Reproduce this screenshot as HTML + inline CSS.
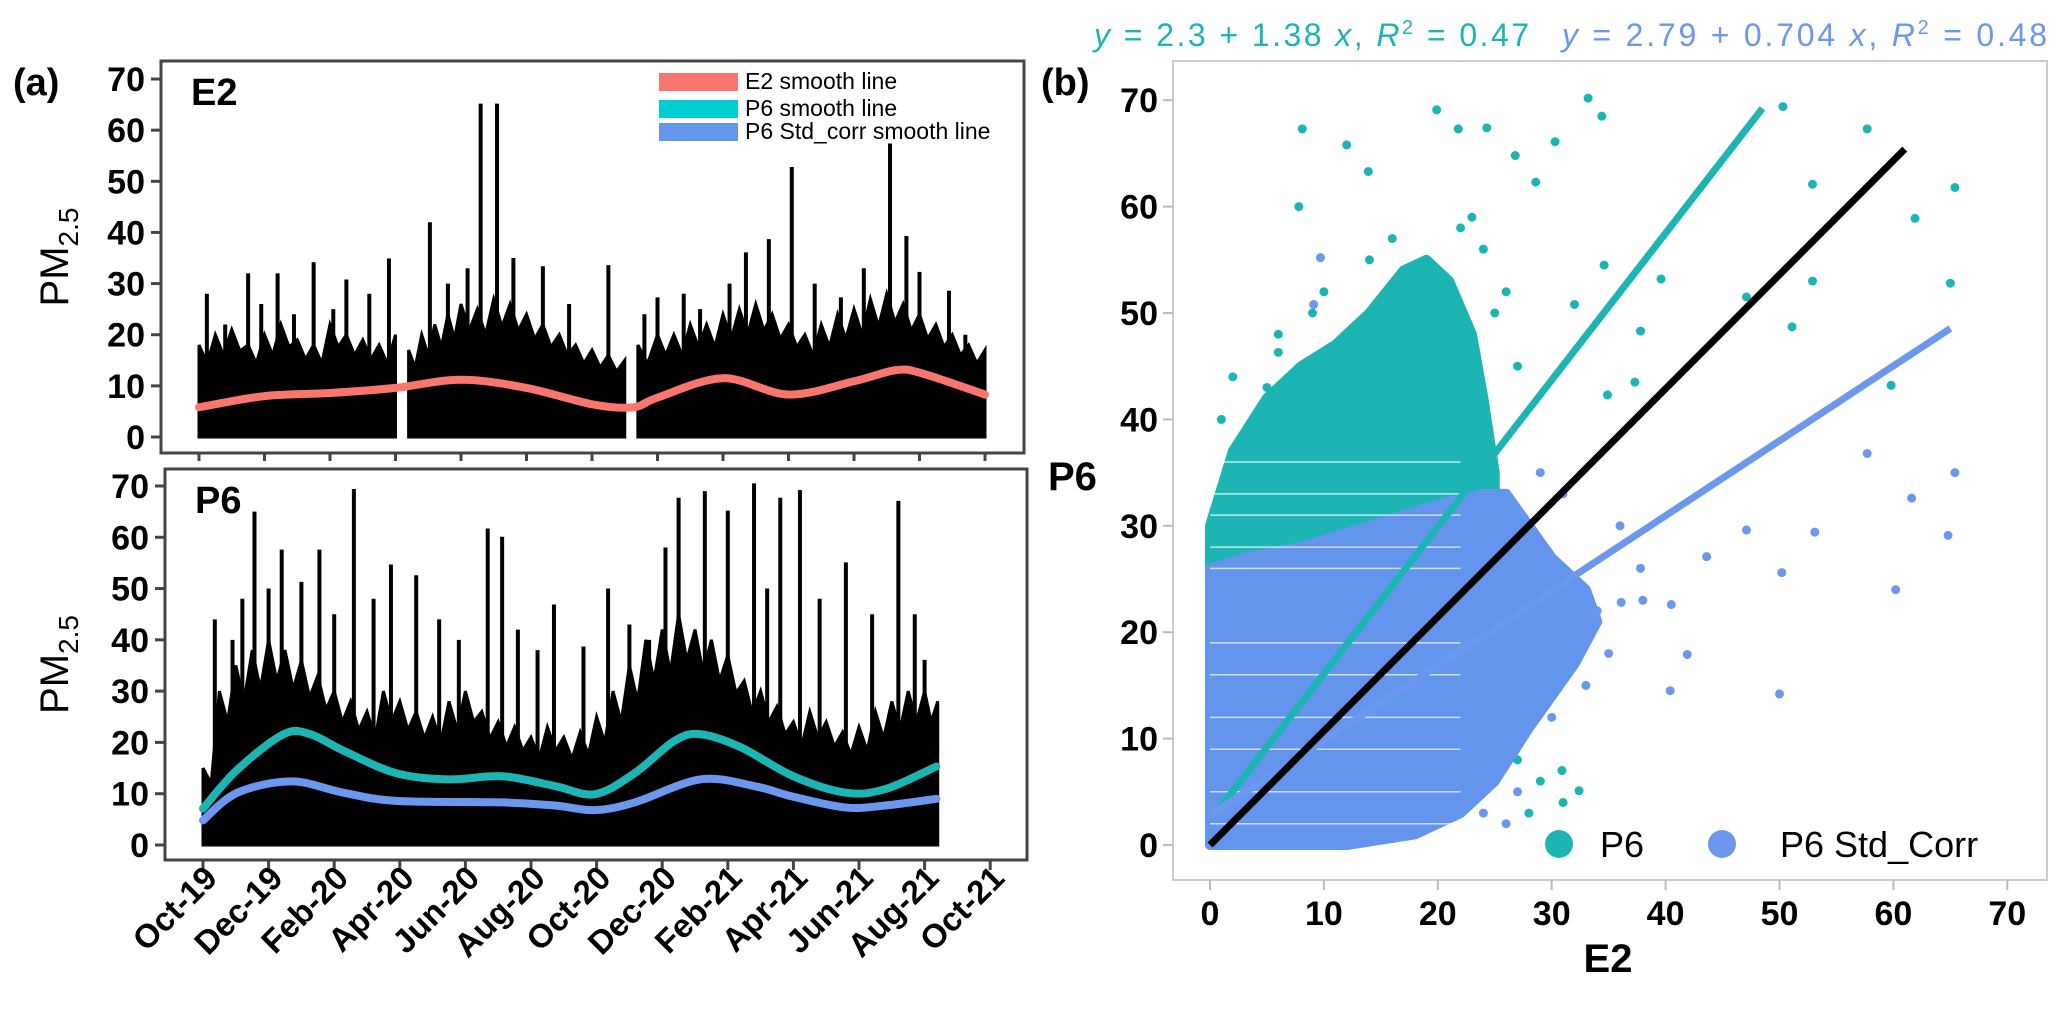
<!DOCTYPE html>
<html><head><meta charset="utf-8"><style>
html,body{margin:0;padding:0;background:#fff;}
svg{display:block;font-family:"Liberation Sans Narrow","Liberation Sans",sans-serif;}
.tk{font-weight:bold;font-size:34px;}
</style></head><body>
<svg id="fig" width="2067" height="1014" viewBox="0 0 2067 1014" xmlns="http://www.w3.org/2000/svg"></svg>
<script>
// ---- data ----
const monthLabels=["Oct-19","Dec-19","Feb-20","Apr-20","Jun-20","Aug-20","Oct-20","Dec-20","Feb-21","Apr-21","Jun-21","Aug-21","Oct-21"];
const yTicks=[0,10,20,30,40,50,60,70];
const xTicksR=[0,10,20,30,40,50,60,70];
const e2DenseMonths=[0,0.5,1,1.5,2,2.5,3,3.5,4,4.5,5,5.5,6,6.2,6.4,6.8,7.2,7.6,8,8.5,9,9.5,10,10.5,11,11.5,12,12.5,13,13.2,13.4,14,14.5,15,15.5,16,16.5,17,17.5,18,18.5,19,19.5,20,20.5,21,21.5,22,22.5,23,23.5,24];
const e2DenseVals=[18,20,21,18,20,22,19,18,22,20,19,18,20,0,17,20,22,24,26,25,27,26,24,22,20,18,17,16,15,0,18,20,20,22,22,24,25,26,24,22,20,22,24,25,27,28,26,24,22,20,18,17];
const e2SpikeMonths=[0.24,0.8,1.5,1.9,2.4,2.9,3.5,4.1,4.5,5.2,5.8,7.05,7.6,8.2,8.6,9.1,9.6,10.5,11.3,12.5,13.6,14,14.8,15.3,16.2,16.7,17.4,18.1,18.8,19.6,20.3,21.1,21.6,22,22.9,23.4];
const e2SpikeVals=[28,22,32,26,32,24,34.2,25,30.8,28,34.9,42,30,33,65.2,65.2,35,33.4,26,33.6,24,27.3,28,25,30,36.1,38.7,52.8,30,27.3,33,57.4,39.3,32.3,28.6,20];
const e2SmoothMonths=[0,2,4,6,8,10,12,13.25,14,16,18,20,21.3,22.1,24];
const e2SmoothVals=[5.8,8,8.6,9.6,11.2,9.6,6.4,5.8,7.7,11.5,8.3,10.9,13.1,12.4,8.3];
const p6DenseMonths=[0,0.5,1,1.5,2,2.5,3,3.5,4,4.5,5,5.5,6,6.5,7,7.5,8,8.5,9,9.5,10,10.5,11,11.5,12,12.5,13,13.5,14,14.5,15,15.5,16,16.5,17,17.5,18,18.5,19,19.5,20,20.5,21,21.5,22,22.4];
const p6DenseVals=[15,30,35,38,40,38,36,33,30,28,26,30,28,26,25,28,30,26,24,23,21,23,21,22,25,30,35,40,42,45,42,40,37,32,30,27,24,26,24,22,23,26,28,30,30,28];
const p6SpikeMonths=[0.36,0.9,1.2,1.57,2,2.4,3,3.55,4,4.6,5.2,5.73,6.5,7.2,7.8,8.68,9.12,9.6,10.2,10.7,11.6,12.35,13,13.6,14.1,14.5,15.3,16,16.8,17.2,17.6,18.2,18.8,19.6,20.4,21.2,21.7,22];
const p6SpikeVals=[44,40,48,65,50,57.6,51.3,57.6,45,69.4,48,54.7,52.6,44,40,61.7,60.1,42,38,46.9,38.7,50,43,40,58,67.7,69,65.2,70.5,50,67.7,69.2,48,55.1,45,67.1,45,36.1];
const p6SmoothMonths=[0,1.05,2.46,3.27,4.28,5.89,7.5,9.12,10.73,11.95,13.16,14.37,15.17,16.38,18,19.6,20.8,22.36];
const p6SmoothVals=[7.1,14.7,21.6,21.6,18.4,14,12.8,13.4,11.5,9.9,14,20.3,21.6,19.1,13.4,10.2,10.9,15.3];
const stdSmoothMonths=[0,1.05,2.7,4.28,5.89,9.12,10.73,11.95,13.16,15.17,16.8,18,19.6,20.8,22.36];
const stdSmoothVals=[4.8,10.2,12.4,10.2,8.6,8.3,7.7,6.8,8.3,12.8,11.5,9.4,7.3,7.7,9];
// scatter
const p6CloudX=[0,0,2,5,8,11,14,17,19,21,23,24,25,25,22,18,15,10];
const p6CloudY=[0,30,37,42,45,47,50,54,55,53,48,42,35,22,10,5,2,0];
const stdCloudX=[0,0,3,8,14,20,24,26,28,30,33,34,32,28,25,22,18,12];
const stdCloudY=[0,26,27,28,30,32,33,33,30,27,24,21,17,11,6,3,1,0];
const p6PtsX=[8.1,19.9,33.2,34.4,50.3,57.7,12,13.9,21.8,24.3,26.8,30.3,28.6,7.8,52.9,61.9,65.4,65,51.1,59.8,52.9,47.1,37.8,39.6,34.6,32,34.9,37.3,6,2,30.9,32.4,3,5,27,29,31,28,4,1,2,6,9,10,14,16,22,24,26,23,25,27,1,3];
const p6PtsY=[67.3,69.1,70.2,68.5,69.4,67.3,65.8,63.3,67.3,67.4,64.8,66.1,62.3,60,62.1,58.9,61.8,52.8,48.7,43.2,53,51.5,48.3,53.2,54.5,50.8,42.3,43.5,46.3,32.6,7,5.1,38,43,8,6,4,3,35,40,44,48,50,52,55,57,58,56,52,59,50,45,33,36];
const stdPtsX=[9.7,9.1,40.5,41.9,50,40.4,64.8,61.6,65.4,57.7,60.2,50.2,47.1,43.6,53.1,37.8,36.1,34,38,30,33,27,35,29,31,36,26,24];
const stdPtsY=[55.2,50.8,22.6,17.9,14.2,14.5,29.1,32.6,35,36.8,24,25.6,29.6,27.1,29.4,26,22.8,22,23,12,15,5,18,35,33,30,2,3];
const p6Fit=[2.3,1.38], stdFit=[2.79,0.704];
const oneToOneX=[0,61], oneToOneY=[0,65.4];

// ---- scales ----
const xT=m=>199+m*32.75, yT=v=>437-v*5.114;
const xB=m=>203+m*32.8, yB=v=>845-v*5.129;
const xR=v=>1210+v*11.39, yR=v=>845-v*10.64;
const NS="http://www.w3.org/2000/svg", svg=document.getElementById('fig');
function el(tag,attrs,parent,text){const e=document.createElementNS(NS,tag);for(const k in attrs)e.setAttribute(k,attrs[k]);if(text!==undefined)e.textContent=text;(parent||svg).appendChild(e);return e;}
function smoothPath(P){
  let d='M'+P[0][0]+','+P[0][1];
  for(let i=0;i<P.length-1;i++){
    const p0=P[i-1]||P[i],p1=P[i],p2=P[i+1],p3=P[i+2]||p2;
    const c1=[p1[0]+(p2[0]-p0[0])/6,p1[1]+(p2[1]-p0[1])/6],c2=[p2[0]-(p3[0]-p1[0])/6,p2[1]-(p3[1]-p1[1])/6];
    d+=' C'+c1+' '+c2+' '+p2;
  }
  return d;
}

// ---- panel (a) ----
function tsPanel(name,xs,ys,frame,dense,dM,spM,spV,smooths,lbl,tickLen){
  const g=el('g',{});
  
  
  const fr=el('rect',{x:frame[0],y:frame[1],width:frame[2]-frame[0],height:frame[3]-frame[1],fill:'none',stroke:'#444','stroke-width':3},g);
  
  
  yTicks.forEach(t=>{
    const l=el('line',{x1:frame[0]-10,x2:frame[0],y1:ys(t),y2:ys(t),stroke:'#444','stroke-width':3},g);
    
    
    const tx=el('text',{x:frame[0]-16,y:ys(t)+12,'text-anchor':'end',class:'tk'},g,t);
    
    
  });
  let seg=[];const segs=[];
  dM.forEach((m,i)=>{if(dense[i]===0){if(seg.length)segs.push(seg);seg=[];}else seg.push([m,dense[i]]);});
  if(seg.length)segs.push(seg);
  segs.forEach(s=>{
    let d='M'+xs(s[0][0])+','+ys(0);
    s.forEach((p,i)=>{d+=' L'+xs(p[0])+','+ys(p[1]);if(i<s.length-1){d+=' L'+((xs(p[0])+xs(s[i+1][0]))/2)+','+ys(p[1]*0.8);}});
    d+=' L'+xs(s[s.length-1][0])+','+ys(0)+' Z';
    const p=el('path',{d:d,fill:'#000',stroke:'#000','stroke-width':3},g);
    
    
  });
  spM.forEach((m,i)=>{
    const l=el('line',{x1:xs(m),x2:xs(m),y1:ys(0),y2:ys(spV[i]),stroke:'#000','stroke-width':4},g);
    
    
  });
  smooths.forEach(s=>{
    const p=el('path',{d:smoothPath(s[0].map((m,i)=>[xs(m),ys(s[1][i])])),fill:'none',stroke:s[2],'stroke-width':8,'stroke-linecap':'round'},g);
    
    
  });
  const t=el('text',{x:frame[0]+30,y:frame[1]+44,'font-weight':'bold','font-size':38},g,lbl);
  
  
  const yl=el('text',{transform:'translate(68,'+((frame[1]+frame[3])/2)+') rotate(-90)','text-anchor':'middle','font-size':40,'font-family':'Liberation Sans,sans-serif'},g);
  
  
  el('tspan',{},yl,'PM');
  el('tspan',{'font-size':28,dy:10},yl,'2.5');
  monthLabels.forEach((lb,i)=>{
    const l=el('line',{x1:xs(i*2),x2:xs(i*2),y1:frame[3],y2:frame[3]+tickLen,stroke:'#444','stroke-width':3},g);
    
    
  });
}
tsPanel('e2',xT,yT,[161,61,1024,453],e2DenseVals,e2DenseMonths,e2SpikeMonths,e2SpikeVals,
  [[e2SmoothMonths,e2SmoothVals,'#F8766D','e2-smooth-line']],'E2',8);
tsPanel('p6',xB,yB,[165,469,1027,860],p6DenseVals,p6DenseMonths,p6SpikeMonths,p6SpikeVals,
  [[p6SmoothMonths,p6SmoothVals,'#1DB5B3','p6-smooth-line'],[stdSmoothMonths,stdSmoothVals,'#6B97EE','p6-std-corr-smooth-line']],'P6',10);
monthLabels.forEach((lb,i)=>{
  const x=xB(i*2)+16;
  const t=el('text',{transform:'translate('+x+',880) rotate(-45)','text-anchor':'end','font-weight':'bold','font-size':33});
  t.textContent=lb;
  
  
});
const pa=el('text',{x:13,y:95,'font-weight':'bold','font-size':38},svg,'(a)');


const leg=[['#F8766D','E2 smooth line',73],['#00CED1','P6 smooth line',100],['#6495ED','P6 Std_corr smooth line',123]];
const lg=el('g',{});


leg.forEach(L=>{
  const r=el('rect',{x:659,y:L[2],width:79,height:18,fill:L[0]},lg);
  
  
  const t=el('text',{x:745,y:L[2]+16,'font-size':23},lg,L[1]);
  
  
});

// ---- panel (b) ----
const pb=el('g',{});


const frR=el('rect',{x:1173,y:61,width:874,height:819,fill:'none',stroke:'#ccc','stroke-width':2},pb);


yTicks.forEach(t=>{
  const l=el('line',{x1:1163,x2:1173,y1:yR(t),y2:yR(t),stroke:'#bbb','stroke-width':2},pb);
  
  
  const tx=el('text',{x:1158,y:yR(t)+12,'text-anchor':'end',class:'tk'},pb,t);
  
  
});
xTicksR.forEach(t=>{
  const l=el('line',{x1:xR(t),x2:xR(t),y1:880,y2:890,stroke:'#bbb','stroke-width':2},pb);
  
  
  const tx=el('text',{x:xR(t),y:925,'text-anchor':'middle',class:'tk'},pb,t);
  
  
});
function cloud(xsA,ysA,color,name){
  const p=el('polygon',{points:xsA.map((x,i)=>xR(x)+','+yR(ysA[i])).join(' '),fill:color,stroke:color,'stroke-width':10,'stroke-linejoin':'round'},pb);
  
  
}
function pts(xsA,ysA,color,name){
  xsA.forEach((x,i)=>{
    const c=el('circle',{cx:xR(x),cy:yR(ysA[i]),r:4.5,fill:color},pb);
    
    
  });
}
cloud(p6CloudX,p6CloudY,'#1DB5B3','p6-point-cloud');
pts(p6PtsX,p6PtsY,'#1DB5B3','p6-point');
cloud(stdCloudX,stdCloudY,'#6495ED','std-corr-point-cloud');
pts(stdPtsX,stdPtsY,'#6B97EE','std-corr-point');
[2,5,9,12,16,19,26,28,31,33,36].forEach(v=>{
  const l=el('line',{x1:xR(0),x2:xR(22),y1:yR(v),y2:yR(v),stroke:'#fff','stroke-width':1.5,opacity:0.7},pb);
  
  
});
function fitLine(f,x0,x1,color,name){
  const l=el('line',{x1:xR(x0),y1:yR(f[0]+f[1]*x0),x2:xR(x1),y2:yR(f[0]+f[1]*x1),stroke:color,'stroke-width':7},pb);
  
  
}
fitLine(p6Fit,0.5,48.5,'#1DB5B3','p6-fit-line');
fitLine(stdFit,0,65,'#6B97EE','std-corr-fit-line');
const one=el('line',{x1:xR(oneToOneX[0]),y1:yR(oneToOneY[0]),x2:xR(oneToOneX[1]),y2:yR(oneToOneY[1]),stroke:'#000','stroke-width':7},pb);


const xl=el('text',{x:1608,y:972,'text-anchor':'middle','font-weight':'bold','font-size':40},pb,'E2');


const yl2=el('text',{x:1048,y:490,'font-weight':'bold','font-size':40},pb,'P6');


const pbl=el('text',{x:1041,y:95,'font-weight':'bold','font-size':38},svg,'(b)');


[[1559,'#1DB5B3','P6',1600],[1722,'#6B97EE','P6 Std_Corr',1780]].forEach(L=>{
  const c=el('circle',{cx:L[0],cy:844,r:14,fill:L[1]},pb);
  
  
  const t=el('text',{x:L[3],y:857,'font-size':36,'font-family':'Liberation Sans,sans-serif'},pb,L[2]);
  
  
});
function eq(x,w,color,a,b,r2,name){
  const t=el('text',{x:x,y:46,fill:color,'font-size':32,'font-family':'Liberation Sans,sans-serif',textLength:w,lengthAdjust:'spacing'},svg);
  
  
  el('tspan',{'font-style':'italic'},t,'y');
  el('tspan',{},t,' =  '+a+' + '+b+' ');
  el('tspan',{'font-style':'italic'},t,'x');
  el('tspan',{},t,',   ');
  el('tspan',{'font-style':'italic'},t,'R');
  el('tspan',{'font-size':20,dy:-12},t,'2');
  el('tspan',{dy:12},t,'  =  '+r2);
}
eq(1094,435,'#1DB5B3','2.3','1.38','0.47','p6-equation');
eq(1562,485,'#6B97EE','2.79','0.704','0.48','std-corr-equation');
</script>
</body></html>
